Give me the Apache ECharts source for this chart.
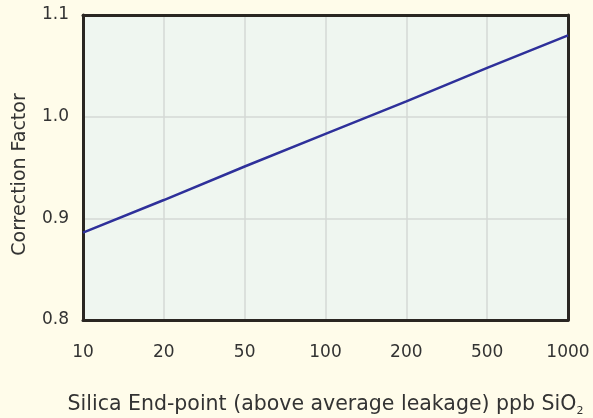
<!DOCTYPE html>
<html><head><meta charset="utf-8">
<script src="https://cdn.jsdelivr.net/npm/echarts@6/dist/echarts.min.js"></script>
<style>html,body{margin:0;padding:0;background:#fffcea;}#c{width:593px;height:418px;}</style>
</head><body><div id="c"></div>
<script>
var categories = ['10','20','50','100','200','500','1000'];
var correctionFactor = [0.886, 0.918, 0.951, 0.983, 1.015, 1.048, 1.080];
var yTicks = [0.8, 0.9, 1.0, 1.1];
var xTitle = 'Silica End-point (above average leakage) ppb SiO';
var yTitle = 'Correction Factor';

var font = 'DejaVu Sans';
var border = {show: true, onZero: false, lineStyle: {color: '#2a2622', width: 3}};
var chart = echarts.init(document.getElementById('c'));
chart.setOption({
  backgroundColor: '#fffcea',
  animation: false,
  grid: {left: 83, right: 25, top: 15, bottom: 98, outerBoundsMode: 'none', containLabel: false, show: true, backgroundColor: '#eff6f0', borderWidth: 0},
  xAxis: [{
    type: 'category', data: categories, boundaryGap: false,
    axisLine: border, axisTick: {show: false},
    splitLine: {show: true, lineStyle: {color: '#d5d9d6', width: 1.5}},
    axisLabel: {color: '#333', fontFamily: font, fontSize: 17, margin: 24, interval: 0},
    name: '{a|' + xTitle + '}{b|2}', nameLocation: 'middle', nameGap: 72,
    nameTextStyle: {verticalAlign: 'top', rich: {a: {fontFamily: font, fontSize: 20.5, color: '#333'}, b: {fontFamily: font, fontSize: 11, color: '#333', verticalAlign: 'bottom', padding: [14,0,0,0]}}}
  }, {
    type: 'category', data: categories, boundaryGap: false, position: 'top',
    axisLine: border, axisTick: {show: false}, axisLabel: {show: false}, splitLine: {show: false}
  }],
  yAxis: [{
    type: 'value', min: 0.8, max: 1.1, interval: 0.1,
    axisLine: border, axisTick: {show: false},
    splitLine: {show: true, lineStyle: {color: '#d5d9d6', width: 1.5}},
    axisLabel: {color: '#333', fontFamily: font, fontSize: 17, margin: 14, formatter: function(v){ return v.toFixed(1); }},
    name: yTitle, nameLocation: 'middle', nameGap: 53,
    nameTextStyle: {fontFamily: font, fontSize: 19, color: '#333', verticalAlign: 'bottom', padding: [0, 14, 0, 0]}
  }, {
    type: 'value', min: 0.8, max: 1.1, interval: 0.1, position: 'right',
    axisLine: border, axisTick: {show: false}, axisLabel: {show: false}, splitLine: {show: false}
  }],
  series: [{type: 'line', data: correctionFactor, symbol: 'none', lineStyle: {color: '#2e309a', width: 2.5}}]
});
</script></body></html>
